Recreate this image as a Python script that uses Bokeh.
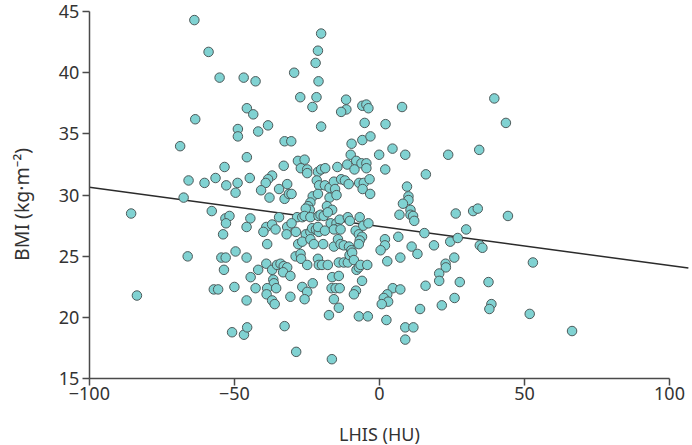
from bokeh.plotting import figure
from bokeh.models import Range1d, FixedTicker, Label
from bokeh.embed import file_html
from bokeh.resources import INLINE

# LHIS (HU) and BMI (kg/m2) for each subject
lhis = [
    -63.8, -58.9, -55.1, -63.5, -48.8, -48.8, -68.7, -53.4, -65.8, -56.5, -60.3, -52.8, -48.9, -49.6, -67.5,
    -20.1, -21.2, -22.0, -29.4, -46.8, -42.7, -21.0, -27.3, -21.7, -23.1, -11.5, -11.4, -13.2, -5.9, -4.5,
    -3.8, -45.7, -43.5, -41.8, -38.4, -20.1, -5.1, 2.1, -32.7, -30.4, -9.6, -5.9, -3.1, -45.7, -9.9,
    -0.1, 4.5, -8.0, -33.0, -28.1, -25.8, -27.1, -24.9, -24.9, -21.2, -20.1, -18.7, -14.5, -11.1, -8.6,
    -6.2, -4.5, -4.5, 2.0, -44.7, -37.0, -38.4, -39.2, -40.8, -37.9, -34.6, -31.8, -32.7, -31.2, -30.3,
    -21.6, -20.8, -18.8, -17.2, -15.7, -15.3, -17.2, -14.8, -23.0, -21.2, -13.2, -11.9, -10.6, -7.0, -5.4,
    -3.4, -5.8, -3.2,
    7.8, 39.6, 43.6, 8.9, 23.7, 34.4, 16.0, 9.5, 10.0, 10.0,
    8.1, 6.9, 10.7, 10.7, 11.6, 12.0, 26.3, 32.3, 33.9, 44.3, 29.9, 15.5, 1.9, 1.9, 0.4,
    6.5, 11.1, 13.1, 18.8, 24.4, 27.0, 34.6, 35.5, 2.7, 7.2, 25.8, 22.8, 22.9, 20.6, 20.6,
    27.7, 37.6, 52.9, 4.6, 7.2, 15.9, 2.7, 1.5, 3.0, 0.8, 25.9, 38.6, 37.9, 21.5, 14.0,
    2.4, 8.9, 11.7, 8.9, 51.8, 66.4,
    -85.6, -57.8, -53.1, -51.7, -52.9, -53.9, -49.6, -66.1, -54.5, -53.0, -53.6, -57.1, -55.6, -50.0, -83.6,
    -50.8,
    -23.8, -24.6, -24.0, -25.4, -18.1, -16.3, -44.5, -34.6, -28.4, -26.6, -25.8, -23.8, -21.0, -20.3, -19.2,
    -17.8, -16.8, -14.8, -13.7, -14.3, -10.9, -10.2, -6.8, -5.6, -3.8, -45.8, -39.0, -37.0, -35.8, -40.0,
    -31.8, -32.0, -30.3, -28.8, -25.4, -23.8, -23.2, -21.9, -20.9, -21.2, -18.8, -15.7, -13.4, -8.2, -7.1,
    -6.0, -6.8, -38.7, -28.0, -26.6, -23.8, -22.6, -19.4, -15.7, -14.3, -13.4, -12.3, -10.5, -9.7, -7.1,
    -45.8, -39.0, -37.0, -35.3, -34.1, -33.0, -31.8, -33.2, -30.7, -41.8, -28.9, -27.2, -27.0, -24.9, -21.2,
    -20.9, -19.8, -17.8, -14.0, -12.3, -10.9, -10.3, -9.4, -8.8, -7.9, -7.1, -6.5, -4.2, -6.0, -44.4,
    -36.6, -36.4, -38.7, -35.6, -42.7, -26.6, -24.9, -23.0, -16.3, -14.0, -16.5, -15.1, -13.7, -8.1, -8.8,
    -38.9, -45.8, -37.0, -36.1, -30.7, -25.8, -15.7, -14.0, -17.4, -7.1, -4.0, -46.7, -45.6, -32.7, -28.7,
    -16.4,
]
bmi = [
    44.3, 41.7, 39.6, 36.2, 35.4, 34.8, 34.0, 32.3, 31.2, 31.4, 31.0, 30.8, 31.0, 30.2, 29.8,
    43.2, 41.8, 40.8, 40.0, 39.6, 39.3, 39.3, 38.0, 38.0, 37.2, 37.8, 37.0, 36.8, 37.3, 37.4,
    37.1, 37.1, 36.6, 35.2, 35.7, 35.6, 35.9, 35.8, 34.4, 34.4, 34.2, 34.5, 34.8, 33.1, 33.3,
    33.3, 33.8, 32.8, 32.4, 32.8, 32.9, 32.2, 32.1, 31.8, 31.9, 32.1, 32.2, 32.3, 32.5, 32.1,
    32.6, 32.6, 32.2, 32.1, 31.4, 31.6, 31.3, 31.0, 30.4, 29.8, 30.5, 30.9, 29.7, 30.1, 30.1,
    31.2, 30.8, 30.8, 30.6, 31.1, 30.5, 29.8, 30.0, 29.9, 30.1, 31.3, 31.2, 30.9, 31.0, 31.0,
    31.3, 30.5, 30.1,
    37.2, 37.9, 35.9, 33.3, 33.3, 33.7, 31.7, 30.7, 29.9, 29.6,
    29.3, 28.4, 28.8, 28.4, 28.3, 27.9, 28.5, 28.7, 28.9, 28.3, 27.2, 26.9, 26.4, 25.9, 25.5,
    26.6, 25.8, 25.2, 25.9, 26.2, 26.5, 25.9, 25.7, 24.6, 24.9, 24.9, 24.4, 24.1, 23.6, 23.0,
    22.9, 22.9, 24.5, 22.4, 22.3, 22.6, 21.9, 21.6, 21.3, 21.1, 21.6, 21.1, 20.7, 21.0, 20.7,
    19.8, 19.2, 19.2, 18.2, 20.3, 18.9,
    28.5, 28.7, 28.1, 28.3, 27.7, 26.8, 25.4, 25.0, 24.9, 24.9, 23.9, 22.3, 22.3, 22.5, 21.8,
    18.8,
    29.4, 29.1, 28.8, 28.9, 29.1, 28.8, 28.1, 28.2, 28.2, 28.2, 28.3, 28.2, 28.3, 28.4, 28.3,
    28.6, 27.7, 27.7, 28.0, 27.3, 28.2, 27.9, 28.2, 27.5, 27.7, 27.4, 27.4, 27.6, 27.2, 27.0,
    27.4, 26.8, 27.7, 27.0, 26.8, 27.0, 27.3, 27.2, 27.0, 27.4, 27.1, 27.2, 27.2, 27.1, 26.8,
    26.6, 26.3, 26.0, 26.0, 26.2, 26.4, 26.0, 26.0, 25.8, 26.4, 26.0, 25.9, 25.8, 25.5, 26.0,
    24.9, 24.4, 23.9, 24.3, 24.4, 24.2, 24.1, 23.7, 23.4, 23.9, 25.0, 25.2, 24.8, 24.3, 24.8,
    24.3, 24.3, 24.3, 24.5, 24.5, 24.5, 25.1, 25.3, 24.7, 23.9, 24.1, 24.3, 24.3, 23.0, 23.3,
    23.1, 22.8, 22.4, 22.4, 22.4, 22.5, 22.1, 22.8, 23.3, 23.4, 22.4, 22.4, 22.4, 22.2, 21.9,
    21.9, 21.4, 21.4, 21.1, 21.7, 21.5, 21.5, 20.8, 20.2, 20.1, 20.1, 18.6, 19.2, 19.3, 17.2,
    16.6,
]

x_ticks = [-100, -50, 0, 50, 100]
y_ticks = [15, 20, 25, 30, 35, 40, 45]
fit_intercept = 27.45
fit_slope = -0.032
fit_x_min, fit_x_max = -100, 106.5
x_title = "LHIS (HU)"
y_title = "BMI (kg\u00b7m\u207b\u00b2)"

# the frame fills the whole drawing; the axes are pinned at x = -100 and y = 15
x_start, x_end = -130.63, 107.92
y_start, y_end = 9.55, 45.90
x_axis_at, y_axis_at = -100, 15

font = "Noto Sans"
ink = "#333333"

p = figure(width=692, height=445, output_backend="svg", toolbar_location=None,
           x_range=Range1d(x_start, x_end), y_range=Range1d(y_start, y_end),
           min_border=0)
p.outline_line_color = None
p.grid.visible = False
p.background_fill_color = "white"
p.border_fill_color = "white"

line_x = [fit_x_min, fit_x_max]
line_y = [fit_intercept + fit_slope * v for v in line_x]
p.line(line_x, line_y, line_color="#2b2b2b", line_width=1.5)
p.scatter(lhis, bmi, size=9.5, fill_color="#80d2d2", line_color="#4d5a5a", line_width=1)

for ax in (p.xaxis[0], p.yaxis[0]):
    ax.axis_line_color = "#4a4a4a"
    ax.axis_line_width = 1.5
    ax.major_tick_line_color = "#4a4a4a"
    ax.major_tick_line_width = 1.5
    ax.major_tick_in = 0
    ax.major_tick_out = 7
    ax.minor_tick_line_color = None
    ax.major_label_text_font = font
    ax.major_label_text_font_size = "18px"
    ax.major_label_text_color = ink

p.xaxis.ticker = FixedTicker(ticks=x_ticks)
p.xaxis.bounds = (x_ticks[0], x_ticks[-1])
p.xaxis.fixed_location = y_axis_at
p.xaxis.major_label_overrides = {t: str(t).replace("-", "\u2212") for t in x_ticks}
p.xaxis.major_label_standoff = 1

p.yaxis.ticker = FixedTicker(ticks=y_ticks)
p.yaxis.bounds = (y_ticks[0], y_ticks[-1])
p.yaxis.fixed_location = x_axis_at
p.yaxis.major_label_standoff = 3

p.add_layout(Label(x=0, y=10.45, text=x_title, text_align="center", text_baseline="alphabetic",
                   text_font=font, text_font_size="18px", text_color=ink))
p.add_layout(Label(x=-123.3, y=29.24, text=y_title, angle=90, angle_units="deg",
                   text_align="center", text_baseline="middle",
                   text_font=font, text_font_size="19.5px", text_color=ink))

open("out.html", "w").write(file_html(p, INLINE))
